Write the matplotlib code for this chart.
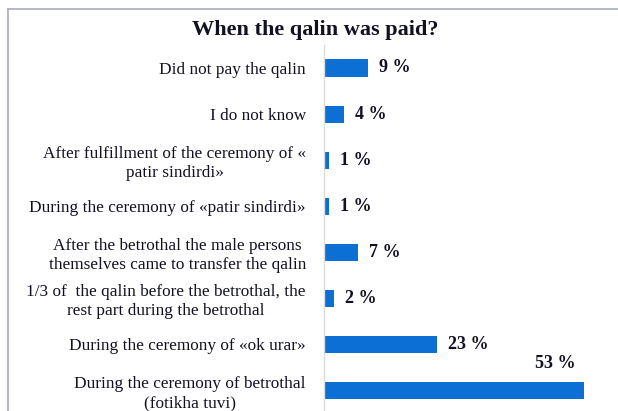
import matplotlib
matplotlib.use("Agg")
import matplotlib.pyplot as plt
from matplotlib.lines import Line2D

categories = [
    "Did not pay the qalin",
    "I do not know",
    "After fulfillment of the ceremony of «\npatir sindirdi»",
    "During the ceremony of «patir sindirdi»",
    "After the betrothal the male persons\nthemselves came to transfer the qalin",
    "1/3 of  the qalin before the betrothal, the\nrest part during the betrothal",
    "During the ceremony of «ok urar»",
    "During the ceremony of betrothal\n(fotikha tuvi)",
]
values = [9, 4, 1, 1, 7, 2, 23, 53]
value_labels = ["9 %", "4 %", "1 %", "1 %", "7 %", "2 %", "23 %", "53 %"]
title = "When the qalin was paid?"

SERIF = ["Liberation Serif", "DejaVu Serif"]
TXT = "#111122"

W, H = 618, 411
fig = plt.figure(figsize=(W / 100, H / 100), dpi=100)
fig.patch.set_facecolor("white")

ax = fig.add_axes([324 / W, 0, 1 - 324 / W, 1 - 45 / H])
ypos = list(range(len(categories)))
ax.barh(ypos, values, height=0.37, color="#0b6fd4", zorder=2)
ax.set_xlim(0, 294 / 4.9)
ax.set_ylim(7.445, -0.499)
ax.set_yticks(ypos)
ax.set_yticklabels(categories, family=SERIF, fontsize=12.4, color=TXT)
for t in ax.get_yticklabels():
    t.set_multialignment("center")
ax.tick_params(axis="y", length=0, pad=13)
ax.set_xticks([])
for s in ["top", "right", "bottom"]:
    ax.spines[s].set_visible(False)
ax.spines["left"].set_color("#dcdcdc")
ax.spines["left"].set_linewidth(1.0)

for i, (v, lab) in enumerate(zip(values, value_labels)):
    if i == len(values) - 1:
        ax.annotate(lab, xy=(v, i), xytext=(-8, 27), textcoords="offset pixels",
                    ha="right", va="center", fontsize=13, fontweight="bold",
                    family=SERIF, color=TXT)
    else:
        ax.annotate(lab, xy=(v, i), xytext=(11, 0), textcoords="offset pixels",
                    ha="left", va="center", fontsize=13, fontweight="bold",
                    family=SERIF, color=TXT)

fig.text(315 / W, 1 - 30 / H, title, ha="center", va="center", fontsize=16,
         fontweight="bold", family=SERIF, color=TXT)

# outer frame (top and left)
fig.add_artist(Line2D([8 / W, 1], [1 - 9 / H, 1 - 9 / H], transform=fig.transFigure,
                      color="#a9adb8", lw=1.2))
fig.add_artist(Line2D([8 / W, 8 / W], [0, 1 - 9 / H], transform=fig.transFigure,
                      color="#a9adb8", lw=1.2))

fig.savefig("out.png", dpi=100, facecolor="white")
